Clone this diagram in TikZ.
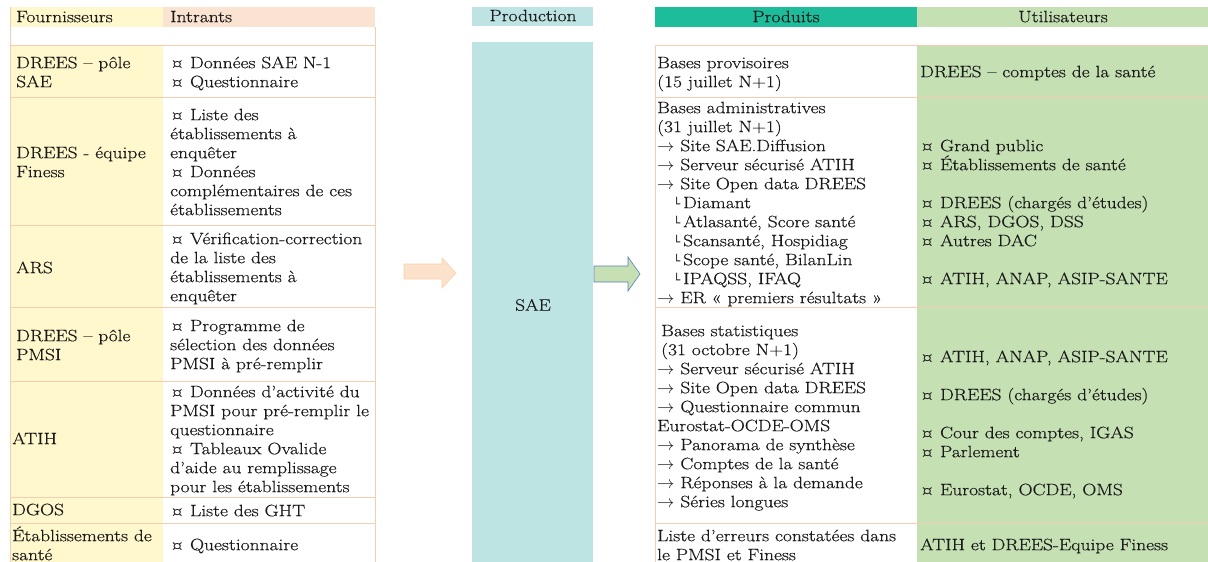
\documentclass[tikz,border=0pt]{standalone}
\usepackage{fontspec}
\setmainfont{Latin Modern Roman}[FakeStretch=1.18, FakeBold=0.4]
\newfontfamily\djv{DejaVu Sans}
\definecolor{fyel}{HTML}{FFF8CC}
\definecolor{ipea}{HTML}{FBE3D2}
\definecolor{bord}{HTML}{F7CDB2}
\definecolor{prod}{HTML}{BDE4E3}
\definecolor{pteal}{HTML}{1DBC9A}
\definecolor{ugreen}{HTML}{C5E0B3}
\definecolor{aor}{HTML}{FDE2CB}
\definecolor{aorb}{HTML}{F9CFAE}
\definecolor{agr}{HTML}{C6E0B4}
\definecolor{agrb}{HTML}{5A7DC2}
\definecolor{txtc}{HTML}{1A1A1A}
\tikzset{
  txt/.style={anchor=north west, inner sep=0pt, align=left, text=txtc, yshift=3pt, font=\fontsize{16.5}{19}\selectfont},
  ctxt/.style={anchor=north, inner sep=0pt, text=txtc, yshift=3pt, font=\fontsize{16.5}{19}\selectfont},
  rowline/.style={draw=bord, line width=1pt},
}
\newcommand\Rs{\rule{0pt}{16pt}}
\newcommand\Ar{$\rightarrow$\ }
\newcommand\Co{\hspace*{16pt}{\djv\fontsize{12}{19}\selectfont └}\,}
\begin{document}
\begin{tikzpicture}[x=1pt,y=-1pt]
\useasboundingbox (0,0) rectangle (1208,562);
% headers
\fill[fyel] (10,7) rectangle (163,27);
\fill[ipea] (163,7) rectangle (375,27);
\fill[prod] (472,7) rectangle (593,26);
\fill[pteal] (655,7) rectangle (917,27);
\fill[ugreen] (917,7) rectangle (1208,27);
% left table fills
\fill[fyel] (10,45) rectangle (163,562);
% production column
\fill[prod] (472,42) rectangle (593,562);
% utilisateurs fill
\fill[ugreen] (917,45) rectangle (1208,562);
% left table borders
\draw[rowline] (10,7) -- (10,562);
\draw[rowline] (375,27) -- (375,562);
\foreach \yy in {45,97,225,307,381,497,523} {\draw[rowline] (10,\yy) -- (375,\yy);}
% right table borders
\draw[rowline] (655,45) -- (655,562);
\foreach \yy in {45,97,307,523} {\draw[rowline] (655,\yy) -- (1208,\yy);}
% header texts
\node[txt] (hf) at (16,9) {\Rs Fournisseurs};
\node[txt] (hi) at (170,9) {\Rs Intrants};
\node[ctxt] (hp) at (533,8) {\Rs Production};
\node[ctxt] (hr) at (786,9) {\Rs Produits};
\node[ctxt] (hu) at (1063,9) {\Rs Utilisateurs};
% fournisseurs
\node[txt] (f1) at (16,55) {\Rs DREES – pôle\\SAE};
\node[txt] (f2) at (16,145) {\Rs DREES - équipe\\Finess};
\node[txt] (f3) at (16,260) {\Rs ARS};
\node[txt] (f4) at (16,328) {\Rs DREES – pôle\\PMSI};
\node[txt] (f5) at (12,431) {\Rs ATIH};
\node[txt] (f6) at (12,502) {\Rs DGOS};
\node[txt] (f7) at (12,528) {\Rs Établissements de\\santé};
% intrants
\node[txt] (i1) at (170,55) {\Rs ¤ Données SAE N-1\\¤ Questionnaire};
\node[txt] (i2) at (170,107) {\Rs ¤ Liste des\\établissements à\\enquêter\\¤ Données\\complémentaires de ces\\établissements};
\node[txt] (i3) at (170,231) {\Rs ¤ Vérification-correction\\de la liste des\\établissements à\\enquêter};
\node[txt] (i4) at (170,318) {\Rs ¤ Programme de\\sélection des données\\PMSI à pré-remplir};
\node[txt] (i5) at (170,384) {\Rs ¤ Données d’activité du\\PMSI pour pré-remplir le\\questionnaire\\¤ Tableaux Ovalide\\d’aide au remplissage\\pour les établissements};
\node[txt] (i6) at (170,503) {\Rs ¤ Liste des GHT};
\node[txt] (i7) at (170,537) {\Rs ¤ Questionnaire};
% production
\node[ctxt, anchor=center, yshift=-3pt] (sae) at (533,305) {SAE};
% block arrows
\draw[fill=aor, draw=aorb, line width=0.6pt] (404,264) -- (442,264) -- (442,258) -- (456,273) -- (442,288) -- (442,279) -- (404,279) -- cycle;
\draw[fill=agr, draw=agrb, line width=0.6pt] (594,266) -- (628,266) -- (628,257) -- (640,274) -- (628,291) -- (628,282) -- (594,282) -- cycle;
% produits
\node[txt] (p1) at (657,55) {\Rs Bases provisoires\\(15 juillet N+1)};
\node[txt] (p2) at (657,100) {\Rs Bases administratives\\(31 juillet N+1)\\\Ar Site SAE.Diffusion\\\Ar Serveur sécurisé ATIH\\\Ar Site Open data DREES\\\Co Diamant\\\Co Atlasanté, Score santé\\\Co Scansanté, Hospidiag\\\Co Scope santé, BilanLin\\\Co IPAQSS, IFAQ\\\Ar ER « premiers résultats »};
\node[txt] (p3) at (657,323) {\Rs \hspace*{4pt}Bases statistiques\\\hspace*{4pt}(31 octobre N+1)\\\Ar Serveur sécurisé ATIH\\\Ar Site Open data DREES\\\Ar Questionnaire commun\\Eurostat-OCDE-OMS\\\Ar Panorama de synthèse\\\Ar Comptes de la santé\\\Ar Réponses à la demande\\\Ar Séries longues};
\node[txt] (p4) at (657,528) {\Rs Liste d’erreurs constatées dans\\le PMSI et Finess};
% utilisateurs
\node[txt] (u1) at (920,64) {\Rs DREES – comptes de la santé};
\node[txt] (u2) at (920,138) {\Rs ¤ Grand public\\¤ Établissements de santé\\[19pt]¤ DREES (chargés d’études)\\¤ ARS, DGOS, DSS\\¤ Autres DAC\\[19pt]¤ ATIH, ANAP, ASIP-SANTE};
\node[txt] (u3) at (920,349) {\Rs ¤ ATIH, ANAP, ASIP-SANTE\\[19pt]¤ DREES (chargés d’études)\\[19pt]¤ Cour des comptes, IGAS\\¤ Parlement\\[19pt]¤ Eurostat, OCDE, OMS};
\node[txt] (u4) at (920,537) {\Rs ATIH et DREES-Equipe Finess};
\end{tikzpicture}
\end{document}
